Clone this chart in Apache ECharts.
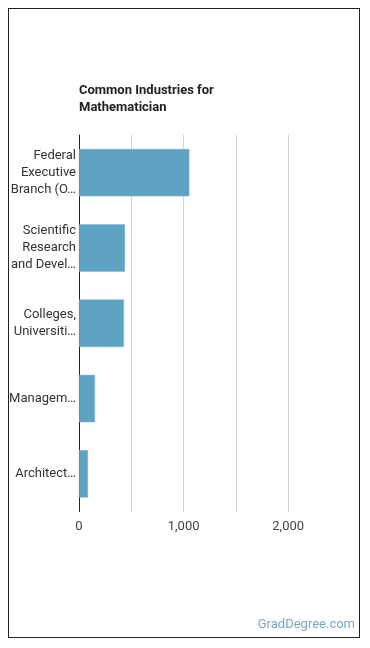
<!DOCTYPE html>
<html>
<head>
<meta charset="utf-8">
<script src="https://cdn.jsdelivr.net/npm/echarts@6/dist/echarts.min.js"></script>
<style>
  html, body { margin: 0; padding: 0; background: #fff; }
  #frame {
    position: absolute; left: 8px; top: 8px; width: 350px; height: 628px;
    border: 1px solid #222;
  }
  #chart { position: absolute; left: 0; top: 0; width: 370px; height: 648px; }
</style>
</head>
<body>
<div id="frame"></div>
<div id="chart"></div>
<script>
// industries (full names) and employment counts
var categories = [
  'Federal Executive Branch (OES Designation)',
  'Scientific Research and Development Services',
  'Colleges, Universities, and Professional Schools',
  'Management of Companies and Enterprises',
  'Architectural, Engineering, and Related Services'
]
var tickLabels = [
  'Federal\nExecutive\nBranch (O…',
  'Scientific\nResearch\nand Devel…',
  'Colleges,\nUniversiti…',
  'Managem…',
  'Architect…'
]
var values = [1055, 440, 430, 153, 86]
var xTicks = [0, 1000, 2000]

var myChart = echarts.init(document.getElementById('chart'))
var option = {
  animation: false,
  textStyle: { fontFamily: 'Roboto' },
  title: {
    text: 'Common Industries for\nMathematician',
    left: 79,
    top: 82,
    padding: 0,
    textStyle: { fontSize: 13, fontWeight: 'bold', color: '#222', lineHeight: 17, fontFamily: 'Roboto' }
  },
  graphic: [{
    type: 'text',
    right: 15,
    top: 618,
    style: { text: 'GradDegree.com', fill: '#7aa6c2', font: '13px Roboto' }
  }],
  grid: { left: 79, top: 135, width: 261.5, height: 376.5, containLabel: false },
  xAxis: {
    type: 'value',
    min: 0,
    max: 2500,
    interval: 500,
    axisLine: { show: false },
    axisTick: { show: false },
    axisLabel: {
      color: '#444',
      fontSize: 13,
      margin: 9,
      formatter: function (v) {
        return xTicks.indexOf(v) >= 0 ? v.toLocaleString('en-US') : ''
      }
    },
    splitLine: {
      show: true,
      lineStyle: { color: ['#d4d4d4', '#d4d4d4', '#d4d4d4', '#d4d4d4', '#d4d4d4', 'rgba(0,0,0,0)'], width: 1 }
    }
  },
  yAxis: {
    type: 'category',
    inverse: true,
    data: categories,
    axisLine: { show: true, lineStyle: { color: '#222', width: 1 } },
    axisTick: { show: false },
    axisLabel: {
      color: '#333',
      fontSize: 13,
      lineHeight: 17,
      margin: 3,
      align: 'right',
      formatter: function (v, i) { return tickLabels[i] }
    }
  },
  series: [{
    type: 'bar',
    data: values,
    barWidth: '63%',
    itemStyle: { color: '#5ea3c2', borderColor: '#7db5d0', borderWidth: 0.5 }
  }]
}
myChart.setOption(option)
</script>
</body>
</html>
